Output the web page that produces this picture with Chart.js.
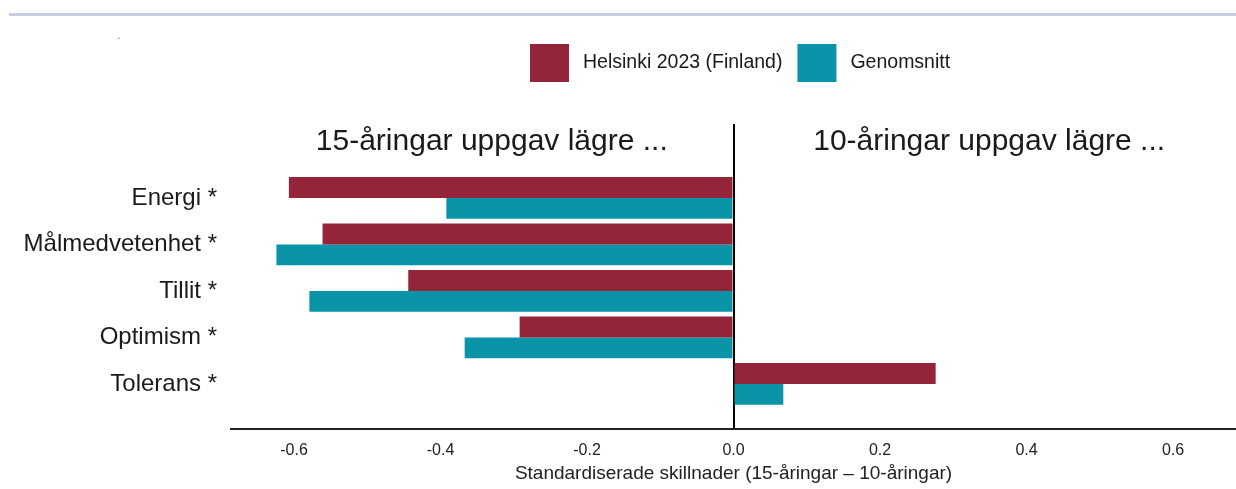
<!DOCTYPE html>
<html>
<head>
<meta charset="utf-8">
<script src="https://cdn.jsdelivr.net/npm/chart.js@4/dist/chart.umd.min.js"></script>
<style>
  html, body { margin: 0; padding: 0; background: #fff; }
  #wrap { position: relative; width: 1236px; height: 489px; overflow: hidden; }
  #topline { position: absolute; left: 9px; top: 13px; width: 1227px; height: 3px; background: #c7cde1; }
  #dot { position: absolute; left: 117px; top: 28px; font: 12px "Liberation Sans", Arial, sans-serif; color: #777; }
  #box { position: absolute; left: 0; top: 0; width: 1236px; height: 489px; }
</style>
</head>
<body>
<div id="wrap">
  <div id="topline"></div>
  <div id="dot">.</div>
  <div id="box"><canvas id="c"></canvas></div>
</div>
<script>
// ---- data ----
const categories = ['Energi *', 'Målmedvetenhet *', 'Tillit *', 'Optimism *', 'Tolerans *'];
const helsinki = [-0.607, -0.561, -0.444, -0.292, 0.276];
const genomsnitt = [-0.392, -0.624, -0.579, -0.367, 0.068];
const seriesNames = ['Helsinki 2023 (Finland)', 'Genomsnitt'];
const xTickValues = [-0.6, -0.4, -0.2, 0.0, 0.2, 0.4, 0.6];
const xTickLabels = ['-0.6', '-0.4', '-0.2', '0.0', '0.2', '0.4', '0.6'];
const headers = ['15-åringar uppgav lägre ...', '10-åringar uppgav lägre ...'];
const xTitle = 'Standardiserade skillnader (15-åringar – 10-åringar)';

const colors = ['#93243a', '#0994a7'];
const FONT = '"Liberation Sans", Arial, sans-serif';

const toPoints = arr => arr.map((v, i) => ({ x: v, y: i }));

const headerPlugin = {
  id: 'headers',
  afterDraw(chart) {
    const { ctx, scales: { x, y } } = chart;
    ctx.save();
    ctx.font = '30px ' + FONT;
    ctx.fillStyle = '#1a1a1a';
    ctx.textAlign = 'center';
    ctx.textBaseline = 'middle';
    const yy = y.getPixelForValue(-1.2);
    ctx.fillText(headers[0], x.getPixelForValue(-0.33), yy);
    ctx.fillText(headers[1], x.getPixelForValue(0.349), yy);
    ctx.restore();
  }
};

const legendPlugin = {
  id: 'customLegend',
  afterDraw(chart) {
    const { ctx } = chart;
    ctx.save();
    ctx.font = '19.5px ' + FONT;
    ctx.textBaseline = 'middle';
    ctx.textAlign = 'left';
    let cx = 530;
    const top = 44, bw = 39, bh = 38;
    chart.data.datasets.forEach((ds) => {
      ctx.fillStyle = ds.backgroundColor;
      ctx.fillRect(cx, top, bw, bh);
      ctx.fillStyle = '#1a1a1a';
      const tx = cx + bw + 14;
      ctx.fillText(ds.label, tx, top + bh / 2);
      cx = tx + ctx.measureText(ds.label).width + 15;
    });
    ctx.restore();
  }
};

new Chart(document.getElementById('c'), {
  type: 'bar',
  data: {
    datasets: [
      { label: seriesNames[0], data: toPoints(helsinki), backgroundColor: colors[0], borderWidth: 0 },
      { label: seriesNames[1], data: toPoints(genomsnitt), backgroundColor: colors[1], borderWidth: 0 }
    ]
  },
  options: {
    indexAxis: 'y',
    responsive: true,
    maintainAspectRatio: false,
    animation: false,
    datasets: { bar: { categoryPercentage: 0.9, barPercentage: 1.0 } },
    layout: { padding: { top: 124, left: 0, right: 0, bottom: 0 } },
    plugins: { legend: { display: false }, tooltip: { enabled: false } },
    scales: {
      x: {
        type: 'linear',
        min: -0.686,
        max: 0.686,
        bounds: 'data',
        afterBuildTicks: s => { s.ticks = xTickValues.map(v => ({ value: v })); },
        afterFit: s => { s.height = 60; },
        ticks: {
          callback: (v) => { const i = xTickValues.findIndex(t => Math.abs(t - v) < 1e-9); return i >= 0 ? xTickLabels[i] : ''; },
          font: { family: FONT, size: 16 },
          color: '#222',
          padding: 12,
          maxRotation: 0,
          autoSkip: false
        },
        grid: {
          drawTicks: false,
          color: c => (c.tick && Math.abs(c.tick.value) < 1e-9) ? '#000' : 'rgba(0,0,0,0)',
          lineWidth: 2
        },
        border: { display: true, color: '#222', width: 2 },
        title: {
          display: true,
          text: xTitle,
          font: { family: FONT, size: 19 },
          color: '#222',
          padding: { top: 0, bottom: 4 }
        }
      },
      y: {
        type: 'linear',
        reverse: true,
        offset: false,
        bounds: 'data',
        min: -1.59,
        max: 4.97,
        afterBuildTicks: s => { s.ticks = categories.map((_, i) => ({ value: i })); },
        afterFit: s => { s.width = 231; },
        ticks: {
          callback: v => categories[v] ?? '',
          font: { family: FONT, size: 24 },
          color: '#1a1a1a',
          padding: 14,
          autoSkip: false
        },
        grid: { display: false, drawTicks: false, offset: false },
        border: { display: false }
      }
    }
  },
  plugins: [headerPlugin, legendPlugin]
});
</script>
</body>
</html>
